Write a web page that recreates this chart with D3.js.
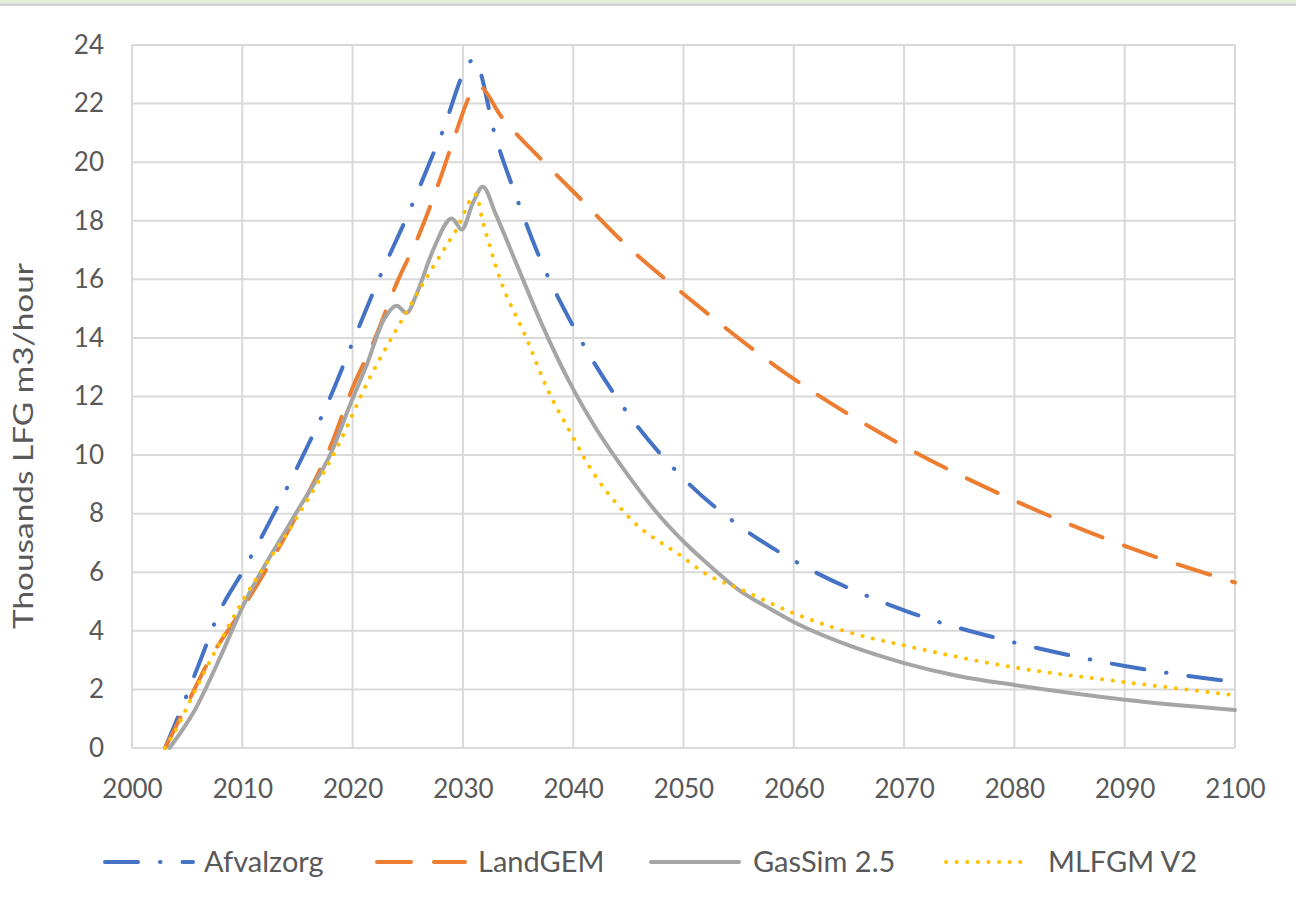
<!DOCTYPE html>
<html><head><meta charset="utf-8">
<script src="https://cdn.jsdelivr.net/npm/d3@7"></script>
<style>
body{margin:0;background:#fff;}
svg{display:block;}
text{font-family:Lato,"Open Sans",sans-serif;}
</style></head><body>
<svg id="chart" width="1296" height="911"></svg>
<script>
// ---- data ----
const xTicks = [2000,2010,2020,2030,2040,2050,2060,2070,2080,2090,2100];
const yTicks = [0,2,4,6,8,10,12,14,16,18,20,22,24];
const seriesNames = ["Afvalzorg","LandGEM","GasSim 2.5","MLFGM V2"];

const afvalzorgYears  = [2003,2004,2006,2008,2010,2015,2018,2020,2022.6,2025,2028,2031,2033,2035,2037,2040,2045,2050,2055,2060,2070,2080,2090,2100];
const afvalzorgValues = [0,0.9,2.8,4.7,6.0,9.6,12.0,13.85,16.2,18.2,20.9,23.5,20.8,18.65,16.7,14.4,11.4,9.2,7.6,6.4,4.7,3.6,2.8,2.25];

const landgemYears  = [2003,2005,2007,2010,2015,2018,2020,2022,2024,2026,2028,2029,2031.4,2033.5,2037,2040,2045,2050,2060,2070,2080,2090,2100];
const landgemValues = [0,1.5,3.0,4.75,8.0,10.3,12.3,13.95,15.87,17.5,19.5,20.6,22.6,21.55,20.13,19.0,17.1,15.5,12.6,10.3,8.45,6.9,5.65];

const gassimYears  = [2003.4,2005.7,2008,2010,2015,2018.2,2019.7,2021.3,2022.8,2024,2024.9,2025.8,2027.3,2029,2029.9,2030.9,2031.8,2033,2035,2037,2040,2042,2045,2048,2050,2052,2055,2058,2060,2065,2070,2075,2080,2090,2100];
const gassimValues = [0,1.3,3.1,4.8,8.1,10.2,11.65,13.1,14.6,15.1,14.85,15.5,17.0,18.08,17.7,18.6,19.16,18.2,16.4,14.6,12.25,10.95,9.3,7.85,7.05,6.35,5.4,4.72,4.3,3.5,2.9,2.45,2.15,1.65,1.3];

const mlfgmYears  = [2003,2004.3,2005.3,2007.2,2010,2015,2018.7,2021.3,2024.3,2027.3,2029.4,2031.2,2031.7,2033.3,2035.7,2037.7,2040,2041,2045,2050,2052,2055,2060,2065,2070,2080,2090,2100];
const mlfgmValues = [0,0.85,1.64,3.06,5.0,7.9,10.34,12.45,14.5,16.43,17.69,18.9,18.14,16.09,14.04,12.22,10.6,9.9,7.9,6.5,5.95,5.45,4.6,3.95,3.5,2.75,2.25,1.8];

// ---- chart ----
const svg = d3.select("#chart");
const pLeft = 132, pRight = 1235, pTop = 45, pBottom = 748;
const x = d3.scaleLinear().domain([2000,2100]).range([pLeft,pRight]);
const y = d3.scaleLinear().domain([0,24]).range([pBottom,pTop]);
const txt = "#595959";

// window top band
svg.append("rect").attr("x",0).attr("y",0).attr("width",1296).attr("height",3.5).attr("fill","#e2efda");
svg.append("rect").attr("x",0).attr("y",3.5).attr("width",1296).attr("height",2.5).attr("fill","#d3d3d3");

// gridlines
const grid = svg.append("g").attr("stroke","#d9d9d9").attr("stroke-width",2);
grid.selectAll("line.h").data(yTicks).join("line").attr("class","h")
  .attr("x1",pLeft).attr("x2",pRight).attr("y1",d=>y(d)).attr("y2",d=>y(d));
grid.selectAll("line.v").data(xTicks).join("line").attr("class","v")
  .attr("x1",d=>x(d)).attr("x2",d=>x(d)).attr("y1",pTop).attr("y2",pBottom);

// axes (labels only)
const yAxis = svg.append("g").attr("transform",`translate(${pLeft},0)`)
  .call(d3.axisLeft(y).tickValues(yTicks).tickSize(0).tickPadding(28).tickFormat(d3.format("d")));
const xAxis = svg.append("g").attr("transform",`translate(0,${pBottom})`)
  .call(d3.axisBottom(x).tickValues(xTicks).tickSize(0).tickPadding(32).tickFormat(d3.format("d")));
[yAxis,xAxis].forEach(a=>{
  a.select(".domain").remove();
  a.selectAll("text").attr("font-size",26).attr("fill",txt).attr("font-family","Lato,'Open Sans',sans-serif");
});

// y label
svg.append("text").attr("transform","translate(33,446) rotate(-90)")
  .attr("text-anchor","middle").attr("font-size",27).attr("fill",txt)
  .attr("textLength",366).attr("lengthAdjust","spacingAndGlyphs")
  .text("Thousands LFG m3/hour");

// series
const styles = [
  {color:"#4472C4", dash:"33 22 0.5 22", cap:"round"},
  {color:"#ED7D31", dash:"34 23", cap:"round"},
  {color:"#A5A5A5", dash:null, cap:"round"},
  {color:"#FFC000", dash:"0.1 10.5", cap:"round"}
];
const data = [
  d3.zip(afvalzorgYears, afvalzorgValues),
  d3.zip(landgemYears, landgemValues),
  d3.zip(gassimYears, gassimValues),
  d3.zip(mlfgmYears, mlfgmValues)
];
const line = d3.line().x(d=>x(d[0])).y(d=>y(d[1])).curve(d3.curveMonotoneX);
svg.append("g").selectAll("path").data([0,1,2,3]).join("path")
  .attr("d",i=>line(data[i]))
  .attr("fill","none")
  .attr("stroke",i=>styles[i].color)
  .attr("stroke-width",4)
  .attr("stroke-linecap",i=>styles[i].cap)
  .attr("stroke-linejoin","round")
  .attr("stroke-dasharray",i=>styles[i].dash);

// legend
const legendStarts = [105,377,651,946];
const legendY = 862;
const lg = svg.append("g").selectAll("g").data(seriesNames).join("g")
  .attr("transform",(d,i)=>`translate(${legendStarts[i]},${legendY})`);
lg.append("line").attr("x1",0).attr("x2",(d,i)=> i===3?84:88).attr("y1",0).attr("y2",0)
  .attr("stroke",(d,i)=>styles[i].color).attr("stroke-width",4)
  .attr("stroke-linecap",(d,i)=>styles[i].cap)
  .attr("stroke-dasharray",(d,i)=>styles[i].dash);
lg.append("text").attr("x",(d,i)=>[99,101,102,102][i]).attr("dy","0.35em")
  .attr("font-size",29).attr("fill",txt).text(d=>d);
</script>
</body></html>
